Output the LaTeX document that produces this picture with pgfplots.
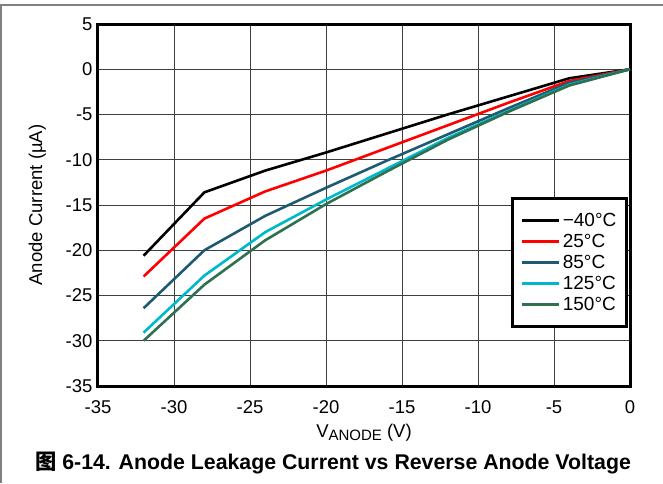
\documentclass[border=0pt]{standalone}
\usepackage{pgfplots}
\pgfplotsset{compat=1.18}
\usepackage{fontspec}
\setmainfont{Liberation Sans}
\newfontfamily\cjk{Noto Sans CJK SC}
\definecolor{cA}{HTML}{000000}
\definecolor{cB}{HTML}{FF0000}
\definecolor{cC}{HTML}{1E5A70}
\definecolor{cD}{HTML}{00B8CC}
\definecolor{cE}{HTML}{2E7050}
\definecolor{gridc}{HTML}{404040}
\begin{document}
\begin{tikzpicture}
\begin{axis}[
  at={(0pt,0pt)}, anchor=south west,
  scale only axis, width=532pt, height=362pt,
  xmin=-35, xmax=0, ymin=-35, ymax=5,
  xtick={-35,-30,...,0}, ytick={-35,-30,...,5},
  grid=major,
  grid style={line width=1pt, gridc},
  axis line style={line width=3pt, black},
  tick style={draw=none},
  /pgf/number format/assume math mode=true,
  ticklabel style={font=\fontsize{18.5}{22}\selectfont},
  xticklabel style={yshift=-11pt},
  yticklabel style={xshift=-2pt},
  xlabel={V{\fontsize{15}{18}\selectfont\raisebox{-2.5pt}{ANODE}} (V)},
  ylabel={Anode Current (µA)},
  label style={font=\fontsize{18.5}{22}\selectfont},
  xlabel style={yshift=-4pt},
  ylabel style={yshift=13pt},
  legend style={at={(0.996,0.522)}, anchor=north east,
    draw=black, line width=3pt, font=\fontsize{19}{21}\selectfont,
    inner xsep=8pt, inner ysep=12.5pt, row sep=2.3pt,
    /tikz/every even column/.append style={column sep=6pt}},
  legend cell align=left,
  legend image code/.code={\draw[#1, line width=3pt] (0pt,0pt) -- (37pt,0pt);},
  every axis plot/.append style={line width=2.6pt},
]
\addplot[cA] coordinates {(-32,-20.6) (-28,-13.6) (-24,-11.2) (-20,-9.2) (-16,-7.1) (-12,-5.0) (-8,-3.0) (-4,-1.0) (0,0)};
\addplot[cB] coordinates {(-32,-22.9) (-28,-16.5) (-24,-13.5) (-20,-11.2) (-16,-8.7) (-12,-6.2) (-8,-3.7) (-4,-1.3) (0,0)};
\addplot[cC] coordinates {(-32,-26.4) (-28,-20.0) (-24,-16.2) (-20,-13.1) (-16,-10.1) (-12,-7.2) (-8,-4.3) (-4,-1.5) (0,0)};
\addplot[cD] coordinates {(-32,-29.1) (-28,-22.8) (-24,-18.0) (-20,-14.4) (-16,-11.0) (-12,-7.6) (-8,-4.6) (-4,-1.7) (0,0)};
\addplot[cE] coordinates {(-32,-30.0) (-28,-23.8) (-24,-18.9) (-20,-14.9) (-16,-11.3) (-12,-7.8) (-8,-4.7) (-4,-1.8) (0,0)};
\legend{−40°C, 25°C, 85°C, 125°C, 150°C}
\end{axis}
\path[use as bounding box] (-98pt,-97pt) rectangle (565pt,386pt);
\draw[line width=2pt, black!50] (-97pt,-97pt) -- (-97pt,381pt) -- (565pt,381pt);
\node[font=\fontsize{21.3}{24}\selectfont\bfseries, anchor=center] at (235pt,-77pt)
  {{\cjk\bfseries 图} 6-14. Anode Leakage Current vs Reverse Anode Voltage};
\end{tikzpicture}
\end{document}
